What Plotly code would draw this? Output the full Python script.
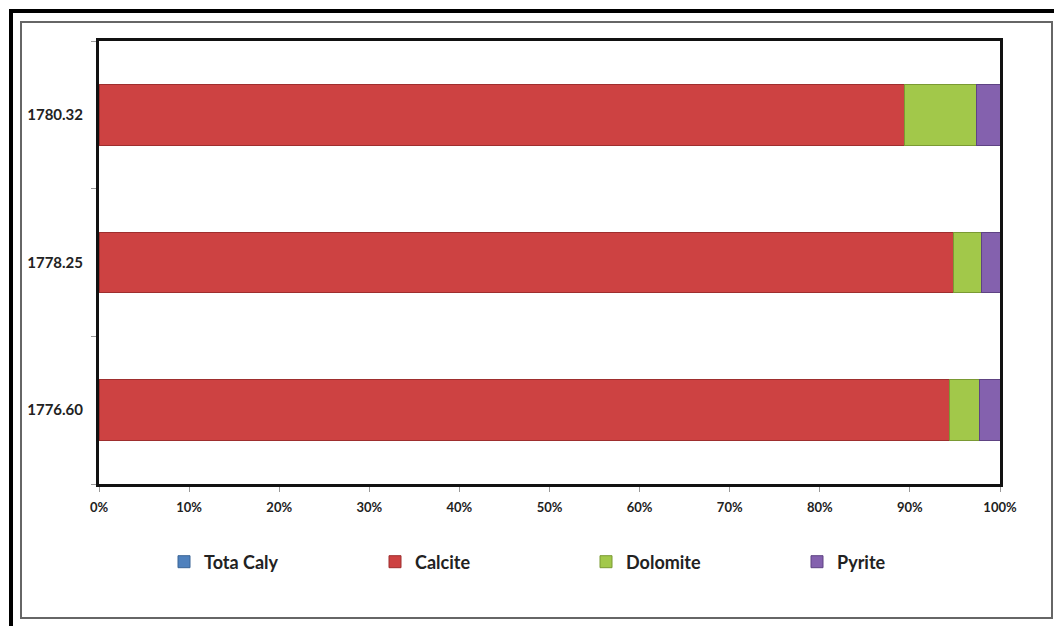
import plotly.graph_objects as go

depths = ["1776.60", "1778.25", "1780.32"]
tota_caly = [0.0, 0.0, 0.0]
calcite = [94.4, 94.8, 89.4]
dolomite = [3.3, 3.1, 8.0]
pyrite = [2.3, 2.1, 2.6]
x_ticks = [0, 10, 20, 30, 40, 50, 60, 70, 80, 90, 100]
x_tick_labels = [f"{v}%" for v in x_ticks]

W, H = 1054, 626
L, R, T, B = 99, 54, 41, 142
pw, ph = W - L - R, H - T - B

def px_x(p):
    return (p - L) / pw

def px_y(p):
    return 1 - (p - T) / ph

series = [
    ("Tota Caly", tota_caly, "#4F81BD", "#3A6596"),
    ("Calcite", calcite, "#CD4242", "#9E2E2E"),
    ("Dolomite", dolomite, "#A2C84A", "#7A9A33"),
    ("Pyrite", pyrite, "#8461AE", "#5E4383"),
]

fig = go.Figure()
for name, vals, col, lcol in series:
    fig.add_trace(go.Bar(
        y=depths, x=vals, name=name, orientation="h",
        marker=dict(color=col, line=dict(color=lcol, width=1)),
    ))

font_family = "Lato, 'Open Sans', sans-serif"
fig.update_layout(
    barmode="stack", barnorm="percent",
    width=W, height=H,
    margin=dict(l=L, r=R, t=T, b=B),
    paper_bgcolor="white", plot_bgcolor="white",
    bargap=0.59,
    font=dict(family=font_family, size=12, color="#222222"),
    showlegend=True,
    legend=dict(
        orientation="h", x=px_x(164), xanchor="left", y=px_y(562), yanchor="middle",
        entrywidth=166, entrywidthmode="pixels",
        font=dict(family=font_family, size=18, color="#222222", weight="bold"),
        itemwidth=30, traceorder="normal",
    ),
    xaxis=dict(
        range=[0, 100], tickvals=x_ticks, ticktext=x_tick_labels,
        showgrid=False, zeroline=False,
        showline=True, linecolor="#111111", linewidth=3, mirror=True,
        ticks="outside", ticklen=5, tickcolor="#999999", tickwidth=1,
        tickfont=dict(family=font_family, size=13, color="#222222", weight="bold"),
        ticklabelstandoff=4,
    ),
    yaxis=dict(
        type="category", categoryorder="array", categoryarray=depths,
        showgrid=False, zeroline=False,
        showline=True, linecolor="#111111", linewidth=3, mirror=True,
        ticks="outside", ticklen=5, tickcolor="#999999", tickwidth=1,
        tickson="boundaries",
        tickfont=dict(family=font_family, size=15, color="#222222", weight="bold"),
        ticklabelstandoff=10,
    ),
    shapes=[
        dict(type="rect", xref="paper", yref="paper",
             x0=px_x(21), x1=px_x(1052), y0=px_y(22), y1=px_y(618),
             line=dict(color="#666666", width=2), layer="below"),
        dict(type="rect", xref="paper", yref="paper",
             x0=px_x(11), x1=px_x(1070), y0=px_y(11), y1=px_y(650),
             line=dict(color="#000000", width=4), layer="below"),
    ],
)

fig.write_html("out.html")
